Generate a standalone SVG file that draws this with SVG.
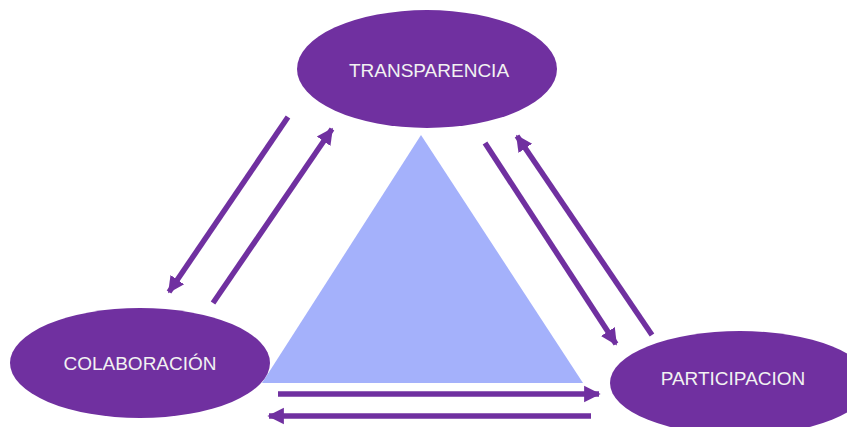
<svg xmlns="http://www.w3.org/2000/svg" width="847" height="427" viewBox="0 0 847 427">
<defs>
<style>
.node{fill:#7030A0;}
.lbl{fill:#F2F2F2;font-family:"Liberation Sans",Arial,sans-serif;font-size:19px;text-anchor:middle;}
.arr{stroke:#7030A0;stroke-width:5.5;fill:none;marker-end:url(#ah);}
</style>
<marker id="ah" viewBox="0 0 10 10" refX="9" refY="5" markerWidth="3" markerHeight="3.6" orient="auto" markerUnits="strokeWidth">
<path d="M0,0 L10,5 L0,10 z" fill="#7030A0"/>
</marker>
</defs>
<rect width="847" height="427" fill="#FFFFFF"/>
<polygon id="triangle" points="421,135 262,383 583,383" fill="#A4B1FB"/>
<g id="connectors">
<line class="arr" x1="288" y1="117" x2="169" y2="292"/>
<line class="arr" x1="213" y1="303" x2="332" y2="129"/>
<line class="arr" x1="485" y1="143" x2="616" y2="344"/>
<line class="arr" x1="652" y1="335" x2="517" y2="136"/>
<line class="arr" x1="278" y1="394" x2="599" y2="394"/>
<line class="arr" x1="591" y1="416" x2="269" y2="416"/>
</g>
<g id="transparencia">
<ellipse class="node" cx="427" cy="69" rx="130" ry="59"/>
<text class="lbl" x="429" y="77">TRANSPARENCIA</text>
</g>
<g id="colaboracion">
<ellipse class="node" cx="140" cy="363" rx="130" ry="55"/>
<text class="lbl" x="140" y="370">COLABORACIÓN</text>
</g>
<g id="participacion">
<ellipse class="node" cx="740" cy="383" rx="130" ry="52"/>
<text class="lbl" x="733" y="385">PARTICIPACION</text>
</g>
</svg>
